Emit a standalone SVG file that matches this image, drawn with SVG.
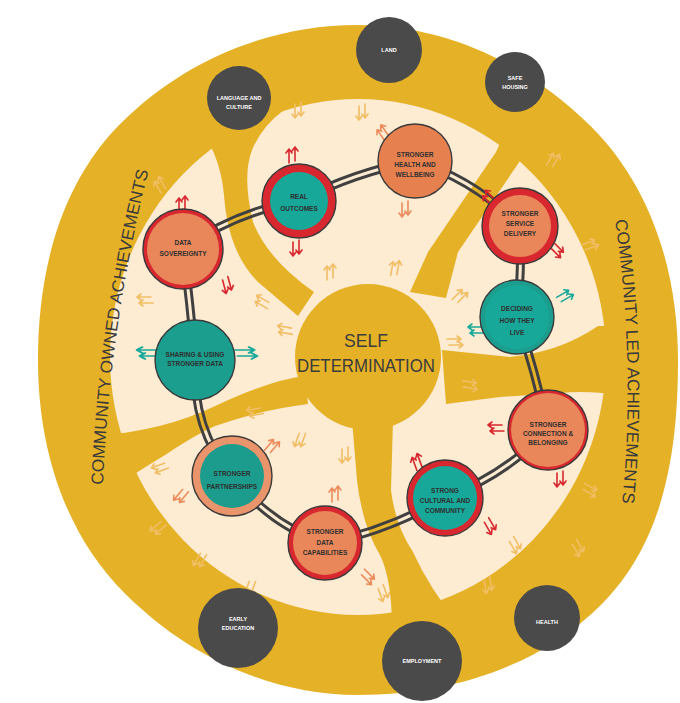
<svg xmlns="http://www.w3.org/2000/svg" xmlns:xlink="http://www.w3.org/1999/xlink" width="680" height="703" viewBox="0 0 680 703">
<style>
.gold{fill:#E5B126}
.cream{fill:#FDEBD2}
.c{fill:none;stroke:#404040;stroke-width:9;stroke-linecap:butt}
.rr{fill:#D8272E;stroke:#3a3a3a;stroke-width:1.4}
.ro{fill:#E9946A;stroke:#3a3a3a;stroke-width:1.4}
.fo{fill:#E9875A}
.fo2{fill:#E6814F;stroke:#3a3a3a;stroke-width:1.4}
.ft{fill:#17A89A}
.ft2{fill:#1B9C8D}
.ftO{fill:#1B9E8E;stroke:#3a3a3a;stroke-width:1.4}
.dk{fill:#4A4A4A}
.lbl{font-family:"Liberation Sans",Arial,sans-serif;font-weight:bold;font-size:6.5px;fill:#2f2f2f;text-anchor:middle}
.wl{font-family:"Liberation Sans",Arial,sans-serif;font-weight:bold;font-size:5.5px;fill:#ffffff;text-anchor:middle}
.big{font-family:"Liberation Sans",Arial,sans-serif;font-size:19px;fill:#3C3C3C;text-anchor:middle}
.side{font-family:"Liberation Sans",Arial,sans-serif;font-size:17px;fill:#3A3A3A}
.aR{stroke:#D8272E}
.aO{stroke:#EC8B5D}
.aT{stroke:#18A99B}
.aP{stroke:#F1BE66}
</style>
<defs>
<g id="ar" fill="none" stroke-width="1.6" stroke-linecap="round" stroke-linejoin="round">
<path d="M-3,8V-5M-6,-2L-3,-6L0,-2M3,6V-7M0,-4L3,-8L6,-4"/>
</g>
<mask id="gap" maskUnits="userSpaceOnUse" x="0" y="0" width="680" height="703">
<rect x="0" y="0" width="680" height="703" fill="#fff"/>
<g fill="none" stroke="#000" stroke-width="3">
<path d="M183,249 Q235,212 299,201"/>
<path d="M299,201 Q355,172 415,161"/>
<path d="M415,161 Q475,180 520,226"/>
<path d="M520,226 Q522,270 517,317"/>
<path d="M517,317 Q535,370 548,430"/>
<path d="M548,430 Q505,475 445,498"/>
<path d="M445,498 Q385,532 325,543"/>
<path d="M325,543 Q270,525 232,476"/>
<path d="M232,476 Q192,430 195,360"/>
<path d="M195,360 Q190,300 183,249"/>
</g>
</mask>
</defs>
<rect width="680" height="703" fill="#ffffff"/>

<g id="background">
<path class="gold" d="M678,360 C678,444.9 666.6,539.2 601.9,603.9 C537.2,668.6 446.8,695 358,695 C269.2,695 186.6,655.2 124.7,593.3 C62.8,531.4 38,444.9 38,360 C38,275.1 58.3,185.9 121.1,123.1 C183.9,60.3 269.2,25 358,25 C446.8,25 529.4,64.8 591.3,126.7 C653.2,188.6 678,275.1 678,360Z"/>
<ellipse class="cream" cx="358" cy="357" rx="248" ry="258"/>
<path class="gold" d="M192,118 Q220,150 224,195 Q228,252 258,282 L298,316 L314,292 Q268,260 253,222 Q242,176 252,150 Q262,126 284,110 Z"/>
<path class="gold" d="M492,122 Q506,134 496,152 L428,252 L410,292 L446,298 L458,252 L522,158 Q536,140 565,130 Z"/>
<path class="gold" d="M442,350 L510,357 Q560,352 598,326 L625,326 L625,396 Q590,390 560,393 L500,397 L446,404 Z"/>
<path class="gold" d="M352,420 L357,480 Q362,525 380,555 Q392,580 392,628 L462,628 Q430,590 413,552 Q395,525 391,490 L393,420 Z"/>
<path class="gold" d="M305,376 Q270,380 213,407 Q165,430 98,436 L98,498 Q140,470 165,455 Q195,435 215,426 Q260,410 308,404 Z"/>
<circle class="gold" cx="368" cy="357" r="73"/>
</g>

<g id="decor-arrows">
<use href="#ar" class="aP" transform="translate(298,110) rotate(180)"/>
<use href="#ar" class="aP" transform="translate(362,112) rotate(180)"/>
<use href="#ar" class="aP" transform="translate(330,272)"/>
<use href="#ar" class="aP" transform="translate(395,268) rotate(10)"/>
<use href="#ar" class="aP" transform="translate(460,296) rotate(45)"/>
<use href="#ar" class="aP" transform="translate(455,342) rotate(90)"/>
<use href="#ar" class="aP" transform="translate(553,160) rotate(30)"/>
<use href="#ar" class="aP" transform="translate(590,245) rotate(70)"/>
<use href="#ar" class="aP" transform="translate(470,385) rotate(100)"/>
<use href="#ar" class="aP" transform="translate(590,490) rotate(120)"/>
<use href="#ar" class="aP" transform="translate(578,548) rotate(150)"/>
<use href="#ar" class="aP" transform="translate(515,545) rotate(150)"/>
<use href="#ar" class="aP" transform="translate(488,585) rotate(170)"/>
<use href="#ar" class="aP" transform="translate(383,593) rotate(160)"/>
<use href="#ar" class="aP" transform="translate(345,455) rotate(180)"/>
<use href="#ar" class="aP" transform="translate(300,440) rotate(200)"/>
<use href="#ar" class="aP" transform="translate(160,468) rotate(-110)"/>
<use href="#ar" class="aP" transform="translate(158,528) rotate(-130)"/>
<use href="#ar" class="aP" transform="translate(200,560) rotate(-150)"/>
<use href="#ar" class="aP" transform="translate(250,588) rotate(-160)"/>
<use href="#ar" class="aP" transform="translate(285,330) rotate(-80)"/>
<use href="#ar" class="aP" transform="translate(262,302) rotate(-60)"/>
<use href="#ar" class="aP" transform="translate(145,300) rotate(-90)"/>
<use href="#ar" class="aP" transform="translate(160,185) rotate(-30)"/>
<use href="#ar" class="aP" transform="translate(255,412) rotate(-100)"/>
</g>

<g id="connectors" mask="url(#gap)">
<path class="c" d="M183,249 Q235,212 299,201"/>
<path class="c" d="M299,201 Q355,172 415,161"/>
<path class="c" d="M415,161 Q475,180 520,226"/>
<path class="c" d="M520,226 Q522,270 517,317"/>
<path class="c" d="M517,317 Q535,370 548,430"/>
<path class="c" d="M548,430 Q505,475 445,498"/>
<path class="c" d="M445,498 Q385,532 325,543"/>
<path class="c" d="M325,543 Q270,525 232,476"/>
<path class="c" d="M232,476 Q192,430 195,360"/>
<path class="c" d="M195,360 Q190,300 183,249"/>
</g>

<g id="node-data-sovereignty">
<use href="#ar" class="aR" transform="translate(182,204)"/>
<use href="#ar" class="aR" transform="translate(227,285) rotate(165)"/>
<circle class="rr" cx="183" cy="249" r="40"/>
<circle class="fo" cx="183" cy="249" r="36"/>
<text class="lbl" x="183" y="245">DATA</text>
<text class="lbl" x="183" y="256">SOVEREIGNTY</text>
</g>

<g id="node-top-teal">
<use href="#ar" class="aR" transform="translate(292,155)"/>
<use href="#ar" class="aR" transform="translate(296,248) rotate(180)"/>
<circle class="rr" cx="299" cy="201" r="37"/>
<circle class="ft" cx="299" cy="201" r="29"/>
<text class="lbl" x="299" y="199">REAL</text>
<text class="lbl" x="299" y="211">OUTCOMES</text>
</g>

<g id="node-top-orange">
<use href="#ar" class="aO" transform="translate(383,133) rotate(-35)"/>
<use href="#ar" class="aO" transform="translate(405,209) rotate(180)"/>
<circle class="fo2" cx="415" cy="161" r="37"/>
<text class="lbl" x="415" y="156.5">STRONGER</text>
<text class="lbl" x="415" y="166.5">HEALTH AND</text>
<text class="lbl" x="415" y="176.5">WELLBEING</text>
</g>

<g id="node-right-upper">
<use href="#ar" class="aR" transform="translate(489,198) rotate(-45)"/>
<use href="#ar" class="aR" transform="translate(557,250) rotate(135)"/>
<circle class="rr" cx="520" cy="226" r="38"/>
<circle class="fo" cx="520" cy="226" r="31"/>
<text class="lbl" x="520" y="216">STRONGER</text>
<text class="lbl" x="520" y="226">SERVICE</text>
<text class="lbl" x="520" y="236">DELIVERY</text>
</g>

<g id="node-right-teal">
<use href="#ar" class="aT" transform="translate(565,296) rotate(60)"/>
<use href="#ar" class="aT" transform="translate(476,330) rotate(-90)"/>
<circle class="ftO" cx="517" cy="317" r="37"/>
<circle class="ft" cx="517" cy="317" r="32"/>
<text class="lbl" x="517" y="311">DECIDING</text>
<text class="lbl" x="517" y="323">HOW THEY</text>
<text class="lbl" x="517" y="335">LIVE</text>
</g>

<g id="node-right-lower">
<use href="#ar" class="aR" transform="translate(496,428) rotate(-90)"/>
<use href="#ar" class="aR" transform="translate(560,479) rotate(180)"/>
<circle class="rr" cx="548" cy="430" r="40"/>
<circle class="fo" cx="548" cy="430" r="37"/>
<text class="lbl" x="548" y="427">STRONGER</text>
<text class="lbl" x="548" y="436">CONNECTION &amp;</text>
<text class="lbl" x="548" y="445">BELONGING</text>
</g>

<g id="node-teal-red">
<use href="#ar" class="aR" transform="translate(417,462) rotate(-20)"/>
<use href="#ar" class="aR" transform="translate(490,526) rotate(150)"/>
<circle class="rr" cx="445" cy="498" r="38"/>
<circle class="ft" cx="445" cy="498" r="32"/>
<text class="lbl" x="445" y="493">STRONG</text>
<text class="lbl" x="445" y="503">CULTURAL AND</text>
<text class="lbl" x="445" y="513">COMMUNITY</text>
</g>

<g id="node-orange-red">
<use href="#ar" class="aO" transform="translate(335,494)"/>
<use href="#ar" class="aO" transform="translate(368,577) rotate(135)"/>
<circle class="rr" cx="325" cy="543" r="37"/>
<circle class="fo" cx="325" cy="543" r="32"/>
<text class="lbl" x="325" y="534">STRONGER</text>
<text class="lbl" x="325" y="545">DATA</text>
<text class="lbl" x="325" y="555">CAPABILITIES</text>
</g>

<g id="node-teal-orange">
<use href="#ar" class="aO" transform="translate(272,446) rotate(40)"/>
<use href="#ar" class="aO" transform="translate(181,496) rotate(-140)"/>
<circle class="ro" cx="232" cy="476" r="40"/>
<circle class="ft2" cx="232" cy="476" r="32"/>
<text class="lbl" x="232" y="475.5">STRONGER</text>
<text class="lbl" x="232" y="489">PARTNERSHIPS</text>
</g>

<g id="node-left-teal">
<use href="#ar" class="aT" transform="translate(148,353) rotate(-90) scale(1,1.4)"/>
<use href="#ar" class="aT" transform="translate(246,353) rotate(90) scale(1,1.4)"/>
<circle class="ftO" cx="195" cy="360" r="40"/>
<text class="lbl" x="195" y="357">SHARING &amp; USING</text>
<text class="lbl" x="195" y="366">STRONGER DATA</text>
</g>

<g id="node-self-determination">
<text class="big" x="366" y="347" textLength="44" lengthAdjust="spacingAndGlyphs">SELF</text>
<text class="big" x="366" y="372" textLength="138" lengthAdjust="spacingAndGlyphs">DETERMINATION</text>
</g>

<g id="outer-circles">
<g id="circle-language"><circle class="dk" cx="239" cy="98" r="32"/><text class="wl" x="239" y="100">LANGUAGE AND</text><text class="wl" x="239" y="108.5">CULTURE</text></g>
<g id="circle-land"><circle class="dk" cx="389" cy="50" r="33"/><text class="wl" x="389" y="52">LAND</text></g>
<g id="circle-housing"><circle class="dk" cx="515" cy="82" r="30"/><text class="wl" x="515" y="80">SAFE</text><text class="wl" x="515" y="89">HOUSING</text></g>
<g id="circle-education"><circle class="dk" cx="238" cy="628" r="40"/><text class="wl" x="238" y="621">EARLY</text><text class="wl" x="238" y="630">EDUCATION</text></g>
<g id="circle-employment"><circle class="dk" cx="422" cy="661" r="40"/><text class="wl" x="422" y="663">EMPLOYMENT</text></g>
<g id="circle-health"><circle class="dk" cx="547" cy="618" r="33"/><text class="wl" x="547" y="624">HEALTH</text></g>
</g>

<g id="side-labels">
<path id="pl" d="M103,485 Q110,320 150,165" fill="none"/>
<path id="pr" d="M615,220 Q636,360 622,505" fill="none"/>
<text class="side"><textPath href="#pl" textLength="318" lengthAdjust="spacingAndGlyphs">COMMUNITY OWNED ACHIEVEMENTS</textPath></text>
<text class="side"><textPath href="#pr" textLength="284" lengthAdjust="spacingAndGlyphs">COMMUNITY LED ACHIEVEMENTS</textPath></text>
</g>
</svg>
